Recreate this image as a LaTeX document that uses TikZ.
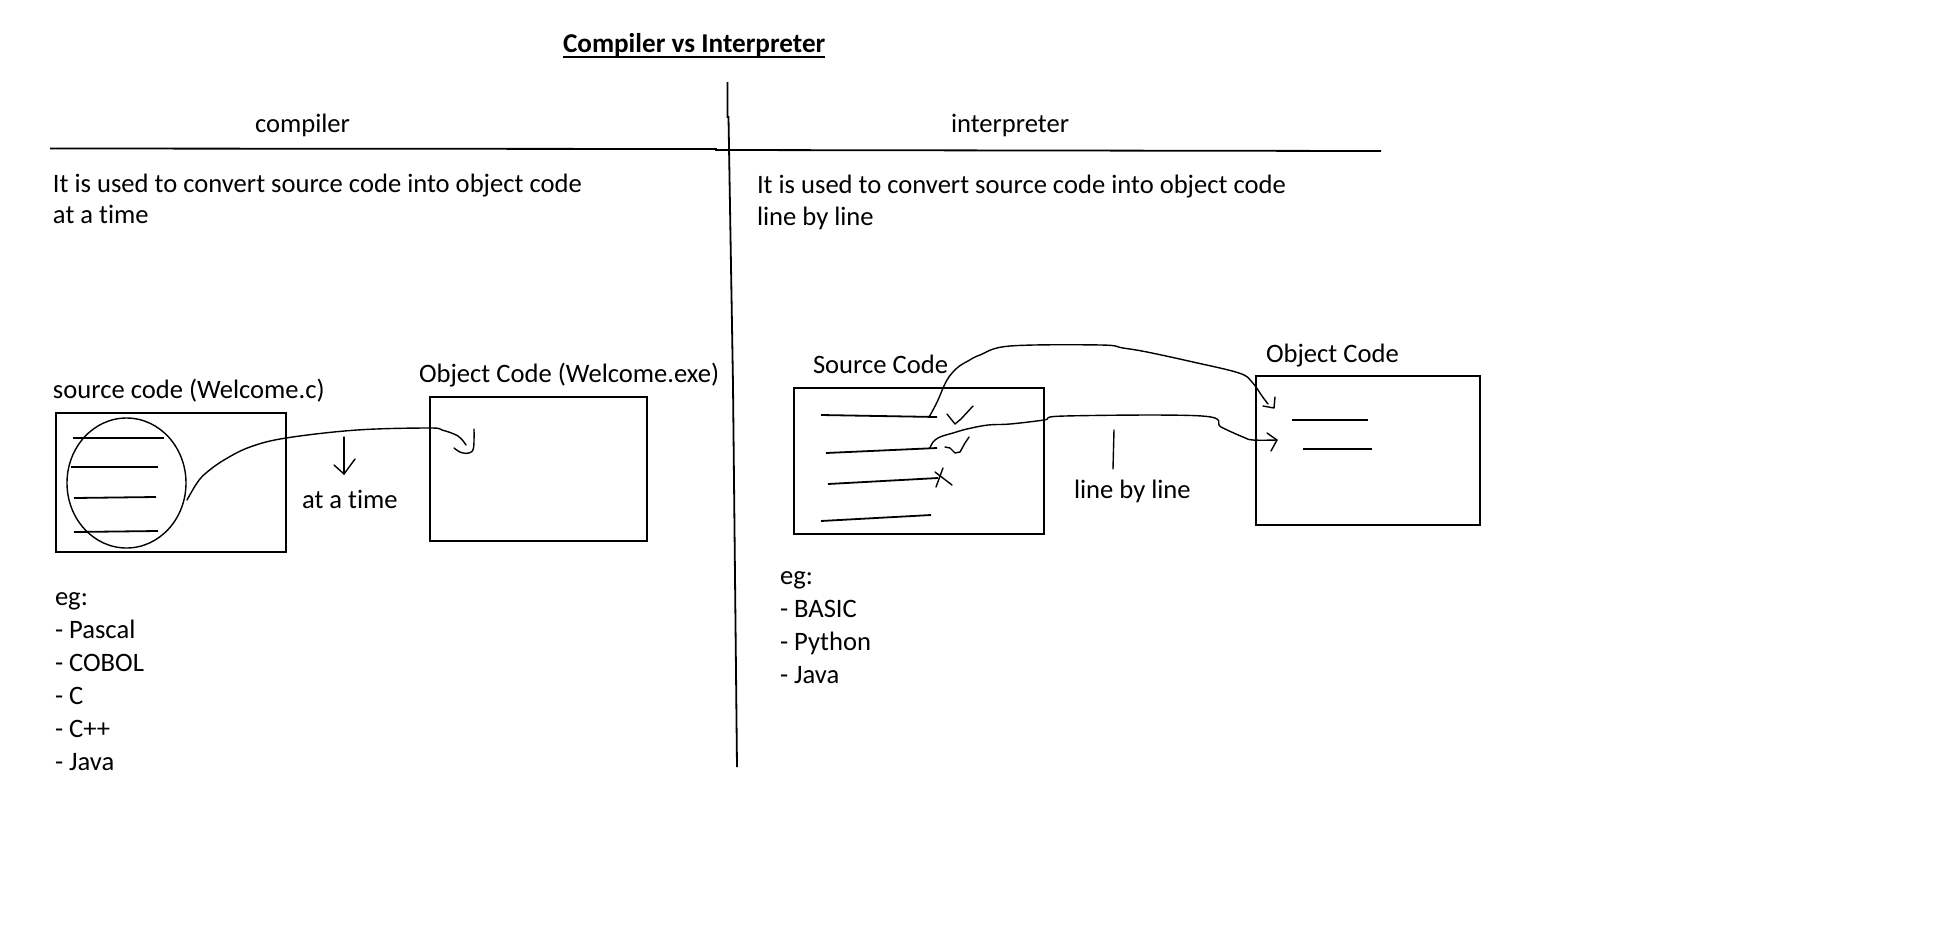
\documentclass[tikz,border=0pt]{standalone}
\usepackage{fontspec}
\setmainfont{Carlito}[Ligatures=NoCommon]
\usetikzlibrary{shapes.geometric}
\tikzset{
  txt/.style={anchor=base west, inner sep=0pt, outer sep=0pt, font=\fontsize{13.3}{16}\selectfont},
  box/.style={draw, line width=1pt, inner sep=0pt, outer sep=0pt},
  rule/.style={line width=0.9pt},
  hand/.style={line width=0.7pt, line cap=round, line join=round},
  codeline/.style={line width=0.9pt},
}
\begin{document}
\begin{tikzpicture}[x=0.5pt, y=-0.5pt]
\useasboundingbox[fill=white] (0,0) rectangle (1940,928);

% title
\node[txt, font=\fontsize{13.6}{16}\selectfont\bfseries] (title) at (563,52) {Compiler vs Interpreter};
\draw[line width=1pt] ([yshift=-2.6pt]title.base west) -- ([yshift=-2.6pt]title.base east);

% dividers
\draw[rule] (727.5,82) -- (727.5,117) -- (728.5,117) -- (733,385) -- (737,767);
\draw[rule] (50,148.5) -- (716,149) -- (716,150) -- (1381,151);

% headings
\node[txt] (hcomp) at (255,132) {compiler};
\node[txt] (hint) at (951,132) {interpreter};

% descriptions
\node[txt] (dl1) at (53,192) {It is used to convert source code into object code};
\node[txt] (dl2) at (53,223) {at a time};
\node[txt] (dr1) at (757,193) {It is used to convert source code into object code};
\node[txt] (dr2) at (757,225) {line by line};

% ---------------- compiler side ----------------
\node[txt] (lsrc) at (53,398) {source code (Welcome.c)};
\node[txt] (lobj) at (419,382) {Object Code (Welcome.exe)};
\node[box, minimum width=115pt, minimum height=69.5pt] (srcL) at (171,482.5) {};
\node[box, minimum width=108.5pt, minimum height=72pt] (objL) at (538.5,469) {};
\node[draw, ellipse, line width=0.7pt, minimum width=59.5pt, minimum height=65pt, inner sep=0pt] (ell) at (126.5,483) {};
\draw[codeline] (73,438) -- (164,438);
\draw[codeline] (71,467) -- (158,467);
\draw[codeline] (74,498) -- (156,497);
\draw[codeline] (74,532) -- (158,531);
\coordinate (lstart) at (187,500);
\coordinate (lend) at (466,445);
\draw[hand] plot[smooth, tension=0.6] coordinates {(lstart) (197,483) (206,473) (224,460) (250,447) (286,438) (357,430) (429,428) (442,430) (458,436) (lend)};
\draw[hand] plot[smooth, tension=0.6] coordinates {(474,429) (473.5,448) (469,453) (461,452.5) (454,448)};
% small down arrow
\coordinate (dtop) at (344,437);
\coordinate (dbot) at (344,474);
\draw[hand] (dtop) -- (dbot);
\draw[hand] (334,465) -- (dbot) -- (355,459);
\node[txt] (atime) at (302,508) {at a time};

% eg list (compiler)
\node[txt] (eg1) at (55,605) {eg:};
\node[txt] (eg2) at (55,638) {- Pascal};
\node[txt] (eg3) at (55,671) {- COBOL};
\node[txt] (eg4) at (55,704) {- C};
\node[txt] (eg5) at (55,737) {- C++};
\node[txt] (eg6) at (55,770) {- Java};

% ---------------- interpreter side ----------------
\node[txt] (rsrc) at (813,373) {Source Code};
\node[txt] (robj) at (1266,362) {Object Code};
\node[box, minimum width=125pt, minimum height=73pt] (srcR) at (919,461) {};
\node[box, minimum width=112pt, minimum height=74.5pt] (objR) at (1367.5,450.5) {};

% source lines
\draw[codeline] (821,415) -- (937,417);
\draw[codeline] (826,453) -- (937,448);
\draw[codeline] (828,484) -- (938,478);
\draw[codeline] (821,521) -- (931,515);
% object lines
\draw[codeline] (1292,420) -- (1368,420);
\draw[codeline] (1303,449) -- (1372,449);

% check marks and cross
\draw[hand] (947,414) -- (955,424) -- (961,419) -- (973,406);
\draw[hand] (945,447) -- (950,448) -- (955,453) -- (960,452) -- (965,443) -- (969,437);
\draw[hand] (935,472) -- (952,485);
\draw[hand] (936,487) -- (943,468);

% upper curve
\coordinate (c1s) at (929,417);
\coordinate (c1e) at (1274,408);
\draw[hand] plot[smooth, tension=0.6] coordinates {(c1s) (933,410) (938,400) (947,380) (957,368) (968,361) (980,355) (1010,346) (1101,345) (1123,348) (1147,352) (1193,362) (1239,373) (1252,382) (1262,396) (1268,404)};
\draw[hand] (1275,397) -- (c1e) -- (1263,406);

% lower curve
\coordinate (c2s) at (930,448);
\coordinate (c2e) at (1277,440);
\draw[hand] plot[smooth, tension=0.6] coordinates {(c2s) (933,442) (940,437) (953,433) (967,429) (988,425) (1010,424) (1044,420) (1065,416) (1202,416) (1221,427) (1243,437) (1253,440) (c2e)};
\draw[hand] (1267,433) -- (c2e) -- (1271,451);

% line by line tick
\coordinate (t1) at (1114,430);
\coordinate (t2) at (1113,469);
\draw[hand] (t1) -- (t2);
\node[txt] (lbl) at (1074,498) {line by line};

% eg list (interpreter)
\node[txt] (rg1) at (780,584) {eg:};
\node[txt] (rg2) at (780,617) {- BASIC};
\node[txt] (rg3) at (780,650) {- Python};
\node[txt] (rg4) at (780,683) {- Java};
\end{tikzpicture}
\end{document}
